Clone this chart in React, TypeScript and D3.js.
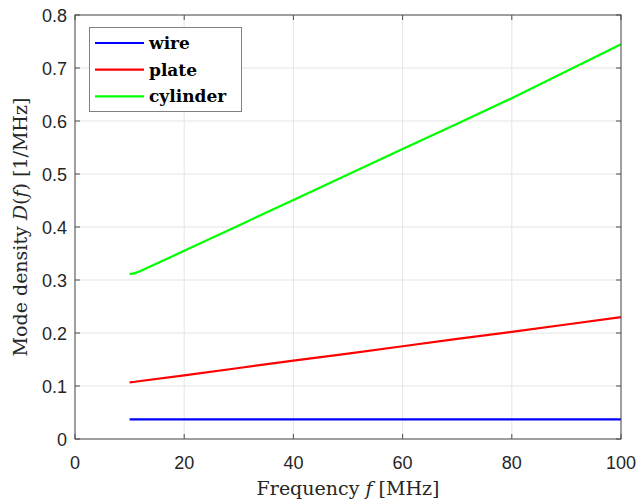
import React from "react";
import * as d3 from "d3";

const freqs = [10, 11, 12, 20, 30, 40, 50, 60, 70, 80, 90, 100];
const wire = [0.037, 0.037, 0.037, 0.037, 0.037, 0.037, 0.037, 0.037, 0.037, 0.037, 0.037, 0.037];
const plate = [0.107, 0.108, 0.1095, 0.120, 0.134, 0.148, 0.161, 0.175, 0.189, 0.202, 0.216, 0.230];
const cylinder = [0.311, 0.313, 0.317, 0.355, 0.403, 0.451, 0.499, 0.547, 0.595, 0.643, 0.694, 0.745];
const seriesNames = ["wire", "plate", "cylinder"];
const seriesColors = ["#0000ff", "#ff0000", "#00ff00"];
const xTicks = [0, 20, 40, 60, 80, 100];
const yTicks = [0, 0.1, 0.2, 0.3, 0.4, 0.5, 0.6, 0.7, 0.8];

export default function App() {
  const W = 640, H = 502;
  const left = 75, right = 621, top = 15, bottom = 439;
  const x = d3.scaleLinear().domain([0, 100]).range([left, right]);
  const y = d3.scaleLinear().domain([0, 0.8]).range([bottom, top]);
  const series = [wire, plate, cylinder];
  const line = d3.line<[number, number]>().x(d => x(d[0])).y(d => y(d[1]));
  const tickColor = "#262626";
  const serif = "'DejaVu Serif', 'Liberation Serif', serif";
  const sans = "'Liberation Sans', Arial, sans-serif";
  return (
    <svg width={W} height={H} style={{ position: "absolute", left: 0, top: 0, background: "#fff" }}>
      <rect x={0} y={0} width={W} height={H} fill="#fff" />
      {xTicks.map(t => (
        <line key={"gx" + t} x1={x(t)} x2={x(t)} y1={top} y2={bottom} stroke="#e5e5e5" strokeWidth={1} />
      ))}
      {yTicks.map(t => (
        <line key={"gy" + t} x1={left} x2={right} y1={y(t)} y2={y(t)} stroke="#e5e5e5" strokeWidth={1} />
      ))}
      {series.map((s, i) => (
        <path key={i} d={line(freqs.map((f, j) => [f, s[j]] as [number, number])) || ""} fill="none"
          stroke={seriesColors[i]} strokeWidth={2.2} strokeLinejoin="round" />
      ))}
      <rect x={left} y={top} width={right - left} height={bottom - top} fill="none" stroke="#4d4d4d" strokeWidth={1} />
      {xTicks.map(t => (
        <g key={"tx" + t}>
          <line x1={x(t)} x2={x(t)} y1={bottom} y2={bottom - 5} stroke="#4d4d4d" />
          <line x1={x(t)} x2={x(t)} y1={top} y2={top + 5} stroke="#4d4d4d" />
          <text x={x(t)} y={bottom + 30} textAnchor="middle" fontFamily={sans} fontSize={18} fill={tickColor}>{t}</text>
        </g>
      ))}
      {yTicks.map(t => (
        <g key={"ty" + t}>
          <line x1={left} x2={left + 5} y1={y(t)} y2={y(t)} stroke="#4d4d4d" />
          <line x1={right} x2={right - 5} y1={y(t)} y2={y(t)} stroke="#4d4d4d" />
          <text x={left - 8} y={y(t) + 6.5} textAnchor="end" fontFamily={sans} fontSize={18} fill={tickColor}>{t === 0 ? "0" : t.toFixed(1)}</text>
        </g>
      ))}
      <text x={348} y={495} textAnchor="middle" fontFamily={serif} fontSize={19} fill={tickColor}>
        Frequency <tspan fontStyle="italic">f</tspan> [MHz]
      </text>
      <text transform={`translate(27,${(top + bottom) / 2}) rotate(-90)`} textAnchor="middle" fontFamily={serif} fontSize={19} fill={tickColor}>
        Mode density <tspan fontStyle="italic">D</tspan>(<tspan fontStyle="italic">f</tspan>) [1/MHz]
      </text>
      <rect x={89.5} y={27.5} width={152} height={84} fill="#fff" stroke="#808080" strokeWidth={1} />
      {seriesNames.map((n, i) => (
        <g key={n}>
          <line x1={95} x2={144} y1={43 + i * 26.7} y2={43 + i * 26.7} stroke={seriesColors[i]} strokeWidth={2.2} />
          <text x={149} y={49 + i * 26.7} fontFamily={serif} fontWeight="bold" fontSize={17} fill="#000">{n}</text>
        </g>
      ))}
    </svg>
  );
}
